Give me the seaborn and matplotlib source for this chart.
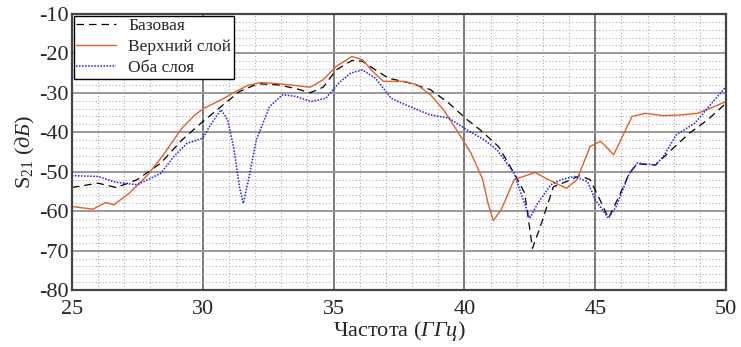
import pandas as pd
import matplotlib.pyplot as plt
import seaborn as sns
from matplotlib.ticker import MultipleLocator

# Values
freq_base = [25.0, 26.0, 26.7, 27.5, 28.4, 29.2, 30.0, 30.7, 31.4, 32.1, 32.9, 33.6, 34.1, 34.6,
             35.1, 35.7, 36.1, 36.6, 37.1, 37.9, 38.7, 39.4, 40.1, 40.6, 41.3, 41.9, 42.3, 42.6,
             42.9, 43.4, 43.9, 44.4, 44.8, 45.3, 45.5, 45.9, 46.3, 46.6, 47.3, 47.9, 48.6, 49.3, 50.0]
s21_base = [-54.0, -52.9, -54.0, -52.0, -47.8, -42.0, -37.3, -33.5, -29.7, -27.7, -28.0, -29.0, -30.0, -28.6,
            -24.2, -21.8, -22.0, -24.2, -26.3, -27.5, -29.2, -32.6, -36.8, -39.4, -43.6, -50.4, -55.4, -69.4,
            -63.9, -53.8, -52.5, -51.0, -52.0, -58.8, -61.8, -56.3, -50.4, -48.0, -48.3, -44.5, -40.2, -36.8, -32.6]

freq_top = [25.0, 25.8, 26.3, 26.6, 27.2, 27.9, 28.5, 29.2, 29.7, 30.05, 30.7, 31.2, 31.7, 32.2, 32.9,
            33.6, 34.1, 34.6, 35.1, 35.7, 36.1, 36.5, 36.9, 37.7, 38.2, 38.7, 39.2, 39.7, 40.25, 40.7,
            40.9, 41.1, 41.4, 41.9, 42.7, 43.2, 43.9, 44.3, 44.8, 45.2, 45.4, 45.7, 46.1, 46.4, 46.9,
            47.6, 48.3, 48.9, 49.4, 50.0]
s21_top = [-58.8, -59.5, -57.8, -58.4, -55.4, -50.8, -45.7, -39.0, -35.6, -33.9, -31.8, -29.9, -28.2, -27.4, -27.7,
           -28.2, -28.6, -26.7, -23.3, -20.8, -21.6, -24.6, -27.1, -27.1, -28.0, -30.5, -34.3, -39.4, -45.3, -52.0,
           -58.0, -62.4, -59.7, -52.0, -50.2, -52.0, -54.2, -52.0, -43.6, -42.3, -43.6, -45.7, -40.2, -36.0, -35.2,
           -35.8, -35.6, -35.2, -33.9, -32.2]

freq_both = [25.0, 26.0, 26.7, 27.5, 28.4, 28.9, 29.4, 30.0, 30.3, 30.7, 30.95, 31.2, 31.4, 31.55, 31.75,
             32.05, 32.55, 33.05, 33.55, 34.15, 34.7, 35.2, 35.65, 36.1, 36.6, 37.2, 37.9, 38.7, 39.4, 40.1,
             40.75, 41.25, 41.9, 42.2, 42.5, 42.8, 43.3, 43.7, 44.2, 44.7, 45.0, 45.5, 45.8, 46.3, 46.6,
             47.3, 47.6, 48.1, 48.8, 49.4, 50.0]
s21_both = [-51.0, -51.2, -52.7, -53.3, -50.4, -46.1, -42.8, -41.5, -38.1, -34.3, -36.8, -44.5, -53.8, -58.0, -52.0,
            -41.9, -33.5, -30.5, -30.9, -32.2, -31.4, -27.5, -25.0, -24.2, -26.3, -31.4, -33.5, -35.6, -36.4, -39.4,
            -41.9, -44.5, -50.4, -56.3, -61.8, -58.0, -53.3, -52.0, -51.2, -52.5, -57.1, -61.8, -58.8, -50.4, -47.8,
            -48.3, -46.1, -40.6, -37.7, -33.0, -28.4]

labels = ['Базовая', 'Верхний слой', 'Оба слоя']

sns.set_style("white")
plt.rcParams['font.family'] = ['Liberation Serif', 'DejaVu Serif']
plt.rcParams['mathtext.fontset'] = 'custom'
plt.rcParams['mathtext.rm'] = 'Liberation Serif'
plt.rcParams['mathtext.it'] = 'Liberation Serif:italic'
plt.rcParams['axes.unicode_minus'] = False

fig = plt.figure(figsize=(7.41, 3.47), dpi=100)
ax = fig.add_axes([0.097, 0.164, 0.883, 0.796])

sns.lineplot(x=freq_base, y=s21_base, ax=ax, color='black', lw=0.9, label=labels[0],
             linestyle=(0, (6, 4)), sort=False)
sns.lineplot(x=freq_top, y=s21_top, ax=ax, color='#e0602a', lw=1.0, label=labels[1], sort=False)
sns.lineplot(x=freq_both, y=s21_both, ax=ax, color='#1a1aff', lw=1.1, label=labels[2],
             linestyle=(0, (1, 1)), sort=False)

ax.set_xlim(25, 50)
ax.set_ylim(-80, -10)
ax.xaxis.set_major_locator(MultipleLocator(5))
ax.xaxis.set_minor_locator(MultipleLocator(1))
ax.yaxis.set_major_locator(MultipleLocator(10))
ax.yaxis.set_minor_locator(MultipleLocator(2))

# grid: dotted minor, solid major
ax.grid(which='minor', axis='both', color='#b0b0b0', linestyle=(0, (1, 2)), lw=0.8)
ax.grid(which='major', axis='y', color='#999999', linestyle='-', lw=1.4)
ax.grid(which='major', axis='x', color='#555555', linestyle='-', lw=1.1)
ax.set_axisbelow(True)

for sp in ax.spines.values():
    sp.set_color('#444444')
    sp.set_linewidth(1.6)

ax.tick_params(which='major', direction='in', length=5, width=1.2, color='#444444',
               labelsize=16, pad=2)
ax.tick_params(which='minor', length=0)
ax.tick_params(axis='x', pad=7)

ax.set_xlabel('Частота ($\\mathit{ГГц}$)', fontsize=16, labelpad=0)
ax.set_ylabel('S$_{21}$ ($\\mathit{дБ}$)', fontsize=16, labelpad=2)

leg = ax.legend(loc='upper left', fontsize=12.5, frameon=True, fancybox=False,
                borderaxespad=0.1, borderpad=0.15, labelspacing=0.28, handlelength=2.3,
                handletextpad=0.7)
leg.get_frame().set_edgecolor('black')
leg.get_frame().set_linewidth(1.0)
leg.get_frame().set_alpha(1)

plt.savefig('out.png', dpi=100)
